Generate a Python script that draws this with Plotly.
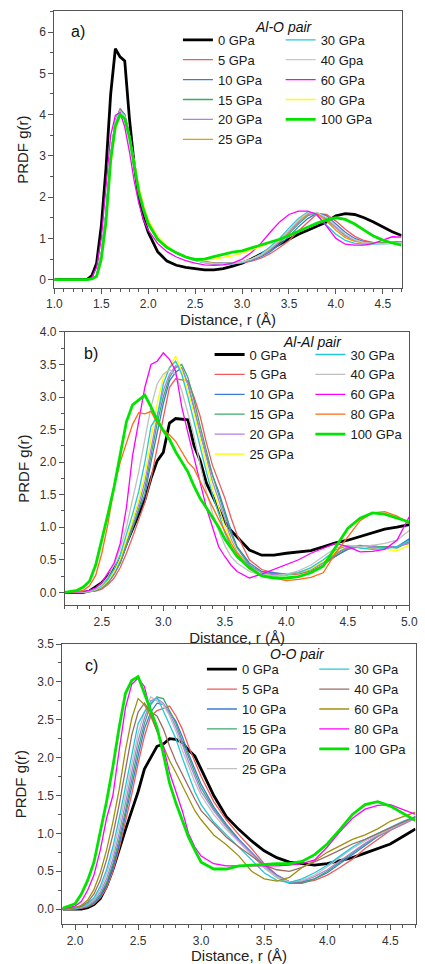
import plotly.graph_objects as go

W, H = 425, 964

# ---------------- data ----------------
labels_a = ["0 GPa", "5 GPa", "10 GPa", "15 GPa", "20 GPa", "25 GPa", "30 GPa", "40 Gpa", "60 GPa", "80 GPa", "100 GPa"]
labels_b = ["0 GPa", "5 GPa", "10 GPa", "15 GPa", "20 GPa", "25 GPa", "30 GPa", "40 GPa", "60 GPa", "80 GPa", "100 GPa"]
labels_c = ["0 GPa", "5 GPa", "10 GPa", "15 GPa", "20 GPa", "25 GPa", "30 GPa", "40 GPa", "60 GPa", "80 GPa", "100 GPa"]

colors_a = ["#000000", "#f05a5a", "#3a7bd5", "#3aaa6a", "#b080e0", "#dfa000", "#20c8d8", "#c8c8c8", "#ff00ff", "#ffff00", "#00e400"]
colors_b = ["#000000", "#f05a5a", "#3a7bd5", "#3aaa6a", "#b080e0", "#ffff00", "#20c8d8", "#c0c0c0", "#ff00ff", "#ff6a10", "#00e400"]
colors_c = ["#000000", "#f05a5a", "#3a7bd5", "#3aaa6a", "#b080e0", "#c0c0c0", "#20c8d8", "#9e6b63", "#a09010", "#ff00ff", "#00e400"]

# Panel a: Al-O pair
r_a = [1.0, 1.3, 1.35, 1.4, 1.45, 1.5, 1.55, 1.6, 1.65, 1.7, 1.75, 1.8, 1.85, 1.9, 1.95, 2.0, 2.1, 2.2, 2.3, 2.4,
       2.5, 2.6, 2.7, 2.8, 2.9, 3.0, 3.1, 3.2, 3.3, 3.4, 3.5, 3.6, 3.7, 3.8, 3.9, 4.0, 4.1, 4.2, 4.3, 4.4, 4.5, 4.6, 4.7]
a_0 = [0, 0, 0.01, 0.1, 0.4, 1.3, 2.7, 4.5, 5.6, 5.4, 5.3, 3.9, 2.8, 2.0, 1.5, 1.15, 0.68, 0.45, 0.35, 0.3,
       0.27, 0.24, 0.24, 0.27, 0.33, 0.4, 0.5, 0.62, 0.75, 0.87, 0.98, 1.1, 1.2, 1.3, 1.4, 1.55, 1.6, 1.58, 1.5, 1.4, 1.28, 1.16, 1.07]
a_5 = [0, 0, 0, 0.02, 0.1, 0.6, 1.6, 3.0, 3.85, 4.15, 4.0, 3.5, 2.85, 2.2, 1.75, 1.42, 1.02, 0.8, 0.66, 0.56,
       0.48, 0.43, 0.4, 0.39, 0.39, 0.41, 0.45, 0.52, 0.63, 0.78, 0.95, 1.18, 1.4, 1.6, 1.58, 1.42, 1.22, 1.05, 0.95, 0.9, 0.89, 0.9, 0.92]
a_10 = [0, 0, 0, 0.02, 0.1, 0.6, 1.6, 3.0, 3.85, 4.12, 4.0, 3.5, 2.85, 2.2, 1.75, 1.42, 1.02, 0.8, 0.66, 0.56,
        0.49, 0.44, 0.41, 0.4, 0.4, 0.42, 0.47, 0.55, 0.68, 0.85, 1.05, 1.28, 1.48, 1.62, 1.55, 1.35, 1.15, 1.0, 0.92, 0.9, 0.9, 0.9, 0.92]
a_15 = [0, 0, 0, 0.02, 0.1, 0.62, 1.62, 3.0, 3.85, 4.1, 3.98, 3.48, 2.83, 2.2, 1.74, 1.4, 1.0, 0.78, 0.64, 0.54,
        0.47, 0.42, 0.4, 0.39, 0.4, 0.43, 0.49, 0.58, 0.72, 0.9, 1.12, 1.35, 1.55, 1.62, 1.48, 1.28, 1.08, 0.96, 0.9, 0.89, 0.9, 0.9, 0.91]
a_20 = [0, 0, 0, 0.02, 0.1, 0.62, 1.62, 3.02, 3.86, 4.1, 3.98, 3.48, 2.84, 2.2, 1.75, 1.4, 1.0, 0.78, 0.64, 0.54,
        0.47, 0.42, 0.39, 0.38, 0.39, 0.42, 0.48, 0.58, 0.73, 0.92, 1.15, 1.38, 1.58, 1.62, 1.45, 1.25, 1.06, 0.95, 0.9, 0.88, 0.88, 0.9, 0.92]
a_25 = [0, 0, 0, 0.02, 0.1, 0.6, 1.58, 2.98, 3.84, 4.1, 3.98, 3.5, 2.86, 2.22, 1.76, 1.42, 1.02, 0.8, 0.65, 0.55,
        0.48, 0.43, 0.4, 0.39, 0.4, 0.43, 0.5, 0.6, 0.75, 0.95, 1.18, 1.42, 1.6, 1.6, 1.42, 1.2, 1.02, 0.93, 0.89, 0.88, 0.88, 0.89, 0.9]
a_30 = [0, 0, 0, 0.02, 0.1, 0.62, 1.62, 3.02, 3.86, 4.1, 3.98, 3.48, 2.84, 2.2, 1.75, 1.4, 1.0, 0.78, 0.64, 0.54,
        0.47, 0.41, 0.38, 0.37, 0.38, 0.42, 0.5, 0.62, 0.8, 1.0, 1.25, 1.48, 1.64, 1.55, 1.32, 1.1, 0.95, 0.88, 0.86, 0.86, 0.87, 0.88, 0.9]
a_40 = [0, 0, 0, 0.02, 0.1, 0.62, 1.62, 3.0, 3.85, 4.08, 3.96, 3.48, 2.84, 2.2, 1.75, 1.4, 1.0, 0.78, 0.64, 0.54,
        0.47, 0.42, 0.39, 0.38, 0.39, 0.43, 0.5, 0.6, 0.76, 0.96, 1.2, 1.45, 1.62, 1.63, 1.5, 1.3, 1.1, 0.97, 0.9, 0.88, 0.87, 0.88, 0.9]
a_60 = [0, 0, 0, 0.05, 0.3, 1.0, 2.2, 3.5, 3.98, 4.05, 3.7, 3.1, 2.4, 1.85, 1.45, 1.2, 0.88, 0.68, 0.55, 0.46,
        0.4, 0.36, 0.35, 0.36, 0.4, 0.5, 0.66, 0.88, 1.15, 1.4, 1.58, 1.66, 1.66, 1.58, 1.3, 1.0, 0.86, 0.84, 0.84, 0.88, 0.96, 1.04, 1.03]
a_80 = [0, 0, 0, 0.01, 0.06, 0.42, 1.3, 2.75, 3.65, 3.98, 3.92, 3.5, 2.88, 2.25, 1.8, 1.45, 1.05, 0.82, 0.66, 0.56,
        0.5, 0.48, 0.5, 0.54, 0.58, 0.64, 0.72, 0.8, 0.9, 0.98, 1.07, 1.17, 1.27, 1.37, 1.45, 1.5, 1.46, 1.35, 1.2, 1.06, 0.96, 0.89, 0.84]
a_100 = [0, 0, 0, 0.02, 0.08, 0.5, 1.4, 2.9, 3.72, 4.0, 3.9, 3.45, 2.8, 2.12, 1.7, 1.36, 0.98, 0.78, 0.65, 0.55,
         0.49, 0.5, 0.56, 0.62, 0.67, 0.7, 0.77, 0.83, 0.9, 0.98, 1.07, 1.17, 1.27, 1.37, 1.45, 1.5, 1.46, 1.35, 1.2, 1.06, 0.96, 0.89, 0.84]

# Panel b: Al-Al pair
r_b = [2.2, 2.3, 2.35, 2.4, 2.45, 2.5, 2.55, 2.6, 2.65, 2.7, 2.75, 2.8, 2.85, 2.9, 2.95, 3.0, 3.05, 3.1, 3.15, 3.2, 3.25,
       3.3, 3.35, 3.4, 3.45, 3.5, 3.55, 3.6, 3.7, 3.8, 3.9, 4.0, 4.1, 4.2, 4.3, 4.4, 4.5, 4.6, 4.7, 4.8, 4.9, 5.0]
b_0 = [0, 0, 0, 0.02, 0.08, 0.15, 0.25, 0.38, 0.5, 0.75, 0.98, 1.2, 1.42, 1.75, 2.02, 2.15, 2.6, 2.67, 2.66, 2.65, 2.25,
       2.02, 1.68, 1.48, 1.3, 1.08, 0.95, 0.85, 0.65, 0.57, 0.57, 0.6, 0.62, 0.64, 0.7, 0.76, 0.8, 0.86, 0.92, 0.97, 1.0, 1.04]
b_5 = [0, 0, 0, 0.01, 0.02, 0.05, 0.12, 0.22, 0.38, 0.6, 0.85, 1.12, 1.38, 1.75, 2.2, 2.7, 3.15, 3.28, 3.27, 3.25, 3.0,
       2.7, 2.3, 1.95, 1.7, 1.45, 1.15, 0.88, 0.5, 0.35, 0.3, 0.27, 0.28, 0.33, 0.42, 0.55, 0.68, 0.7, 0.68, 0.7, 0.7, 0.75]
b_10 = [0, 0, 0, 0.01, 0.03, 0.07, 0.15, 0.28, 0.45, 0.7, 0.98, 1.25, 1.5, 2.0, 2.45, 2.9, 3.25, 3.38, 3.45, 3.2, 2.8,
        2.45, 2.1, 1.8, 1.55, 1.25, 0.95, 0.7, 0.45, 0.32, 0.3, 0.28, 0.3, 0.36, 0.45, 0.56, 0.66, 0.7, 0.72, 0.68, 0.7, 0.82]
b_15 = [0, 0, 0, 0.01, 0.03, 0.07, 0.15, 0.28, 0.46, 0.72, 1.0, 1.28, 1.6, 2.1, 2.6, 3.0, 3.3, 3.45, 3.5, 3.3, 2.95,
        2.55, 2.15, 1.8, 1.5, 1.18, 0.9, 0.68, 0.42, 0.3, 0.28, 0.27, 0.3, 0.35, 0.45, 0.58, 0.7, 0.72, 0.7, 0.7, 0.68, 0.78]
b_20 = [0, 0, 0, 0.01, 0.04, 0.08, 0.17, 0.3, 0.5, 0.78, 1.05, 1.35, 1.7, 2.2, 2.7, 3.1, 3.35, 3.48, 3.45, 3.2, 2.85,
        2.45, 2.05, 1.7, 1.42, 1.1, 0.82, 0.62, 0.4, 0.3, 0.27, 0.28, 0.31, 0.36, 0.45, 0.6, 0.7, 0.7, 0.7, 0.68, 0.7, 0.76]
b_25 = [0, 0, 0, 0.01, 0.04, 0.09, 0.18, 0.32, 0.52, 0.8, 1.1, 1.42, 1.8, 2.35, 2.9, 3.3, 3.45, 3.63, 3.4, 3.1, 2.75,
        2.35, 1.95, 1.6, 1.3, 1.02, 0.78, 0.6, 0.38, 0.28, 0.25, 0.27, 0.3, 0.36, 0.48, 0.62, 0.72, 0.7, 0.66, 0.66, 0.64, 0.72]
b_30 = [0, 0, 0, 0.01, 0.05, 0.1, 0.2, 0.36, 0.58, 0.88, 1.2, 1.55, 2.0, 2.55, 2.7, 3.2, 3.45, 3.55, 3.35, 3.0, 2.6,
        2.2, 1.85, 1.5, 1.2, 0.92, 0.7, 0.55, 0.36, 0.27, 0.25, 0.27, 0.3, 0.38, 0.5, 0.65, 0.72, 0.68, 0.66, 0.67, 0.7, 0.8]
b_40 = [0, 0, 0, 0.02, 0.06, 0.12, 0.24, 0.42, 0.68, 1.0, 1.4, 1.85, 2.35, 2.85, 3.2, 3.35, 3.42, 3.35, 3.1, 2.75, 2.4,
        1.95, 1.55, 1.22, 0.95, 0.72, 0.55, 0.45, 0.32, 0.26, 0.25, 0.28, 0.33, 0.42, 0.55, 0.68, 0.72, 0.7, 0.72, 0.75, 0.8, 0.95]
b_60 = [0, 0, 0.01, 0.03, 0.07, 0.15, 0.3, 0.45, 0.75, 1.3, 2.1, 2.65, 3.15, 3.5, 3.55, 3.68, 3.58, 3.4, 2.85, 2.45, 2.05,
        1.7, 1.3, 1.0, 0.7, 0.55, 0.42, 0.32, 0.22, 0.28, 0.35, 0.42, 0.5, 0.6, 0.68, 0.75, 0.7, 0.62, 0.63, 0.66, 0.8, 1.16]
b_80 = [0, 0.01, 0.03, 0.1, 0.26, 0.6, 1.05, 1.62, 2.0, 2.3, 2.58, 2.76, 2.74, 2.78, 2.6, 2.5, 2.42, 2.32, 2.16, 2.0, 1.9,
        1.7, 1.5, 1.32, 1.12, 0.94, 0.75, 0.6, 0.36, 0.26, 0.22, 0.18, 0.2, 0.23, 0.3, 0.6, 0.85, 1.1, 1.22, 1.24, 1.17, 1.06]
b_100 = [0, 0.03, 0.08, 0.17, 0.42, 0.8, 1.2, 1.62, 2.1, 2.62, 2.88, 2.96, 3.03, 2.85, 2.65, 2.48, 2.35, 2.16, 2.0, 1.85, 1.63,
         1.44, 1.3, 1.16, 1.0, 0.82, 0.68, 0.55, 0.38, 0.25, 0.22, 0.22, 0.24, 0.3, 0.4, 0.68, 0.98, 1.14, 1.22, 1.2, 1.14, 1.08]

# Panel c: O-O pair
r_c = [1.9, 2.0, 2.05, 2.1, 2.15, 2.2, 2.25, 2.3, 2.35, 2.4, 2.45, 2.5, 2.55, 2.6, 2.65, 2.7, 2.75, 2.8, 2.85, 2.9,
       2.95, 3.0, 3.1, 3.2, 3.3, 3.4, 3.5, 3.6, 3.7, 3.8, 3.9, 4.0, 4.1, 4.2, 4.3, 4.4, 4.5, 4.6, 4.7]
c_0 = [0, 0, 0, 0.02, 0.06, 0.14, 0.3, 0.52, 0.8, 1.05, 1.3, 1.55, 1.85, 2.0, 2.15, 2.18, 2.25, 2.24, 2.2, 2.1,
       2.02, 1.85, 1.5, 1.22, 1.05, 0.9, 0.77, 0.68, 0.62, 0.6, 0.58, 0.6, 0.64, 0.68, 0.74, 0.8, 0.86, 0.96, 1.06]
c_5 = [0, 0, 0.01, 0.03, 0.07, 0.15, 0.28, 0.5, 0.8, 1.15, 1.52, 1.92, 2.28, 2.55, 2.62, 2.65, 2.68, 2.55, 2.38, 2.15,
       1.95, 1.75, 1.42, 1.18, 0.98, 0.8, 0.6, 0.45, 0.36, 0.35, 0.38, 0.45, 0.55, 0.66, 0.8, 0.92, 1.04, 1.12, 1.2]
c_10 = [0, 0, 0.02, 0.04, 0.08, 0.17, 0.32, 0.55, 0.86, 1.22, 1.62, 2.02, 2.38, 2.6, 2.72, 2.7, 2.6, 2.48, 2.28, 2.05,
        1.85, 1.65, 1.35, 1.12, 0.92, 0.75, 0.58, 0.45, 0.36, 0.36, 0.4, 0.48, 0.6, 0.72, 0.84, 0.96, 1.06, 1.15, 1.22]
c_15 = [0, 0.01, 0.02, 0.04, 0.09, 0.19, 0.35, 0.6, 0.92, 1.3, 1.72, 2.12, 2.45, 2.7, 2.8, 2.78, 2.62, 2.45, 2.22, 2.0,
        1.8, 1.6, 1.32, 1.1, 0.9, 0.72, 0.55, 0.42, 0.34, 0.34, 0.4, 0.5, 0.62, 0.75, 0.86, 0.96, 1.05, 1.14, 1.22]
c_20 = [0, 0.01, 0.02, 0.05, 0.11, 0.22, 0.4, 0.66, 1.0, 1.4, 1.82, 2.22, 2.52, 2.75, 2.78, 2.72, 2.58, 2.4, 2.18, 1.95,
        1.75, 1.55, 1.3, 1.08, 0.9, 0.74, 0.57, 0.44, 0.36, 0.37, 0.43, 0.52, 0.64, 0.76, 0.87, 0.97, 1.05, 1.13, 1.2]
c_25 = [0, 0.01, 0.03, 0.06, 0.13, 0.26, 0.46, 0.74, 1.1, 1.5, 1.92, 2.32, 2.6, 2.8, 2.75, 2.7, 2.55, 2.35, 2.1, 1.88,
        1.68, 1.5, 1.25, 1.05, 0.88, 0.72, 0.55, 0.42, 0.36, 0.38, 0.45, 0.56, 0.68, 0.8, 0.9, 0.98, 1.06, 1.15, 1.22]
c_30 = [0, 0.01, 0.03, 0.07, 0.15, 0.3, 0.52, 0.82, 1.2, 1.62, 2.05, 2.45, 2.6, 2.72, 2.8, 2.62, 2.45, 2.25, 2.0, 1.78,
        1.55, 1.38, 1.15, 0.98, 0.82, 0.65, 0.48, 0.38, 0.35, 0.4, 0.48, 0.58, 0.7, 0.82, 0.92, 1.0, 1.08, 1.16, 1.22]
c_40 = [0, 0.02, 0.04, 0.09, 0.2, 0.38, 0.65, 0.98, 1.38, 1.85, 2.3, 2.6, 2.72, 2.6, 2.55, 2.38, 2.15, 1.95, 1.78, 1.6,
        1.45, 1.3, 1.12, 0.95, 0.82, 0.7, 0.58, 0.52, 0.5, 0.55, 0.62, 0.7, 0.78, 0.86, 0.92, 1.0, 1.08, 1.15, 1.22]
c_60 = [0, 0.02, 0.05, 0.12, 0.26, 0.48, 0.78, 1.15, 1.58, 2.1, 2.52, 2.78, 2.7, 2.55, 2.35, 2.15, 1.96, 1.8, 1.63, 1.45,
        1.3, 1.18, 0.98, 0.85, 0.7, 0.5, 0.4, 0.37, 0.42, 0.55, 0.64, 0.75, 0.84, 0.92, 0.98, 1.06, 1.16, 1.22, 1.28]
c_80 = [0, 0.04, 0.1, 0.25, 0.45, 0.78, 1.2, 1.5, 2.1, 2.66, 2.97, 3.05, 2.94, 2.6, 2.35, 2.15, 1.8, 1.55, 1.3, 1.0,
        0.82, 0.7, 0.6, 0.57, 0.57, 0.57, 0.57, 0.57, 0.58, 0.6, 0.65, 0.82, 1.02, 1.2, 1.32, 1.37, 1.38, 1.32, 1.25]
c_100 = [0.01, 0.07, 0.2, 0.38, 0.62, 1.0, 1.42, 1.88, 2.4, 2.85, 3.02, 3.07, 2.85, 2.62, 2.4, 2.05, 1.66, 1.4, 1.17, 0.95,
         0.78, 0.62, 0.53, 0.53, 0.57, 0.58, 0.59, 0.6, 0.6, 0.63, 0.72, 0.86, 1.05, 1.25, 1.38, 1.42, 1.36, 1.27, 1.17]

series_a = [a_0, a_5, a_10, a_15, a_20, a_25, a_30, a_40, a_60, a_80, a_100]
series_b = [b_0, b_5, b_10, b_15, b_20, b_25, b_30, b_40, b_60, b_80, b_100]
series_c = [c_0, c_5, c_10, c_15, c_20, c_25, c_30, c_40, c_60, c_80, c_100]

# ---------------- figure ----------------
FONT = "Arial, 'Liberation Sans', sans-serif"
AXC = "#555555"


def px(x):
    return x / W


def py(y):
    return 1 - y / H


fig = go.Figure()

panels = [
    (r_a, series_a, labels_a, colors_a, "", ("legend", "legend2")),
    (r_b, series_b, labels_b, colors_b, "2", ("legend3", "legend4")),
    (r_c, series_c, labels_c, colors_c, "3", ("legend5", "legend6")),
]

for r, series, labels, colors, sfx, legs in panels:
    for i, (vals, lab, col) in enumerate(zip(series, labels, colors)):
        thick = i in (0, 10)
        fig.add_trace(go.Scatter(
            x=r, y=vals, mode="lines", name=lab,
            line=dict(color=col, width=2.8 if thick else 1.3),
            xaxis="x" + sfx, yaxis="y" + sfx,
            legend=legs[0] if i < 6 else legs[1],
        ))


def xax(dom, rng, anchor):
    return dict(domain=dom, range=rng, anchor=anchor, dtick=0.5, tick0=0, tickformat=".1f",
                showline=True, linecolor=AXC, linewidth=1.2, mirror=True,
                ticks="outside", ticklen=5, tickcolor=AXC, tickwidth=1,
                minor=dict(dtick=0.1, ticks="outside", ticklen=3, tickcolor=AXC),
                showgrid=False, zeroline=False, ticklabeloverflow="allow",
                tickfont=dict(family=FONT, size=12, color="#333333"),
                title=dict(text="Distance, r (Å)", font=dict(family=FONT, size=15, color="#222222"), standoff=0))


def yax(dom, rng, anchor, dtick, mdtick, fmt):
    return dict(domain=dom, range=rng, anchor=anchor, dtick=dtick, tick0=0, tickformat=fmt,
                showline=True, linecolor=AXC, linewidth=1.2, mirror=True,
                ticks="outside", ticklen=5, tickcolor=AXC, tickwidth=1,
                minor=dict(dtick=mdtick, ticks="outside", ticklen=3, tickcolor=AXC),
                showgrid=False, zeroline=False,
                tickfont=dict(family=FONT, size=12, color="#333333"),
                title=dict(text="PRDF g(r)", font=dict(family=FONT, size=15, color="#222222"), standoff=6))


def leg(xpx, ytop):
    return dict(x=px(xpx), y=py(ytop), xanchor="left", yanchor="top", orientation="v",
                bgcolor="rgba(0,0,0,0)", borderwidth=0, tracegroupgap=0, itemwidth=30,
                font=dict(family=FONT, size=13, color="#1a1a1a"))


fig.update_layout(
    width=W, height=H, margin=dict(l=0, r=0, t=0, b=0),
    paper_bgcolor="white", plot_bgcolor="white",
    xaxis=xax([px(48.3), px(410)], [1.0, 4.7], "y"),
    yaxis=yax([py(283), py(4.5)], [-0.2, 6.5], "x", 1, 0.5, "d"),
    xaxis2=xax([px(59.3), px(418)], [2.2, 5.0], "y2"),
    yaxis2=yax([py(602.7), py(327.3)], [-0.2, 4.0], "x2", 0.5, 0.25, ".1f"),
    xaxis3=xax([px(56.7), px(424.5)], [1.9, 4.7], "y3"),
    yaxis3=yax([py(924), py(641.7)], [-0.2, 3.5], "x3", 0.5, 0.25, ".1f"),
    legend=leg(177, 18), legend2=leg(284, 18),
    legend3=leg(210, 335), legend4=leg(315, 335),
    legend5=leg(202, 652), legend6=leg(319, 652),
    showlegend=True,
)

ann = []
for text, x, y in [("a)", 73, 25), ("b)", 86, 349), ("c)", 87, 663)]:
    ann.append(dict(text=text, x=px(x), y=py(y), xref="paper", yref="paper", showarrow=False,
                    font=dict(family=FONT, size=16, color="#111111"), xanchor="center", yanchor="middle"))
for text, x, y in [("Al-O pair", 287, 20), ("Al-Al pair", 317, 337), ("O-O pair", 302, 652)]:
    ann.append(dict(text="<i>" + text + "</i>", x=px(x), y=py(y), xref="paper", yref="paper", showarrow=False,
                    font=dict(family=FONT, size=14, color="#111111"), xanchor="center", yanchor="middle"))
fig.update_layout(annotations=ann)

fig.write_html("out.html")
